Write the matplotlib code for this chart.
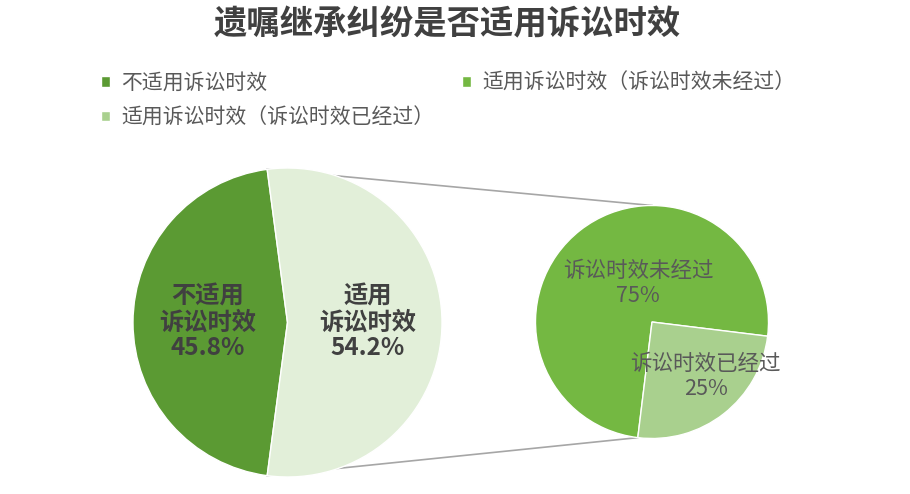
import numpy as np
import matplotlib.pyplot as plt

plt.rcParams['font.family'] = ['Noto Sans CJK SC', 'DejaVu Sans']

# 数据
title = '遗嘱继承纠纷是否适用诉讼时效'
main_labels = ['不适用\n诉讼时效', '适用\n诉讼时效']
main_values = [45.8, 54.2]
sub_labels = ['诉讼时效未经过', '诉讼时效已经过']
sub_values = [75, 25]
legend_labels = ['不适用诉讼时效',
                 '适用诉讼时效（诉讼时效未经过）',
                 '适用诉讼时效（诉讼时效已经过）']

main_colors = ['#5b9a33', '#e2efd9']
sub_colors = ['#74b842', '#a9d08e']
text_dark = '#404040'
text_gray = '#595959'

W, H = 910, 494
fig = plt.figure(figsize=(W / 100, H / 100), dpi=100)
ax = fig.add_axes([0, 0, 1, 1])

# 主饼图 (左)
c1 = (287.5, H - 322.5)
r1 = 154.5
start1 = 180 - main_values[0] * 1.8
w1, _ = ax.pie(main_values, colors=main_colors, startangle=start1,
               center=c1, radius=r1,
               wedgeprops=dict(edgecolor='white', linewidth=1))

# 子饼图 (右)
c2 = (652, H - 322)
r2 = 116.5
start2 = -7
w2, _ = ax.pie(sub_values, colors=sub_colors, startangle=start2,
               center=c2, radius=r2,
               wedgeprops=dict(edgecolor='white', linewidth=1))

ax.set_xlim(0, W)
ax.set_ylim(0, H)
ax.set_aspect('equal')
ax.axis('off')

# 连接线
a_top = np.radians(start1)
a_bot = np.radians(start1 + main_values[0] * 3.6)
b_top = np.radians(90)
b_bot = np.radians(start2 + sub_values[0] * 3.6)
for a, b in [(a_top, b_top), (a_bot, b_bot)]:
    ax.plot([c1[0] + r1 * np.cos(a), c2[0] + r2 * np.cos(b)],
            [c1[1] + r1 * np.sin(a), c2[1] + r2 * np.sin(b)],
            color='#a6a6a6', lw=1.2, zorder=0)

# 标签
for lab, val, dx in zip(main_labels, main_values, [-0.515, 0.52]):
    ax.text(c1[0] + dx * r1, c1[1], f'{lab}\n{val}%', ha='center', va='center',
            fontsize=17.5, fontweight='bold', color=text_dark, linespacing=1.08)

for lab, val, (dx, dy) in zip(sub_labels, sub_values, [(-0.12, 0.33), (0.46, -0.47)]):
    ax.text(c2[0] + dx * r2, c2[1] + dy * r2, f'{lab}\n{val}%', ha='center', va='center',
            fontsize=15.5, color=text_gray, linespacing=1.15)

fig.text(0.492, 1 - 25 / H, title, ha='center', va='center',
         fontsize=24, fontweight='bold', color=text_dark)

handles = [w1[0], w2[1], w2[0]]
labels = [legend_labels[0], legend_labels[2], legend_labels[1]]
leg = ax.legend(handles, labels, ncol=2, loc='upper left',
                bbox_to_anchor=(101 / W, 1 - 72 / H), frameon=False,
                fontsize=15, handlelength=0.42, handleheight=0.42,
                handletextpad=0.55, labelspacing=0.6, columnspacing=1.35,
                borderpad=0, borderaxespad=0)
for t in leg.get_texts():
    t.set_color(text_gray)

fig.savefig('out.png', dpi=100, facecolor='white')
